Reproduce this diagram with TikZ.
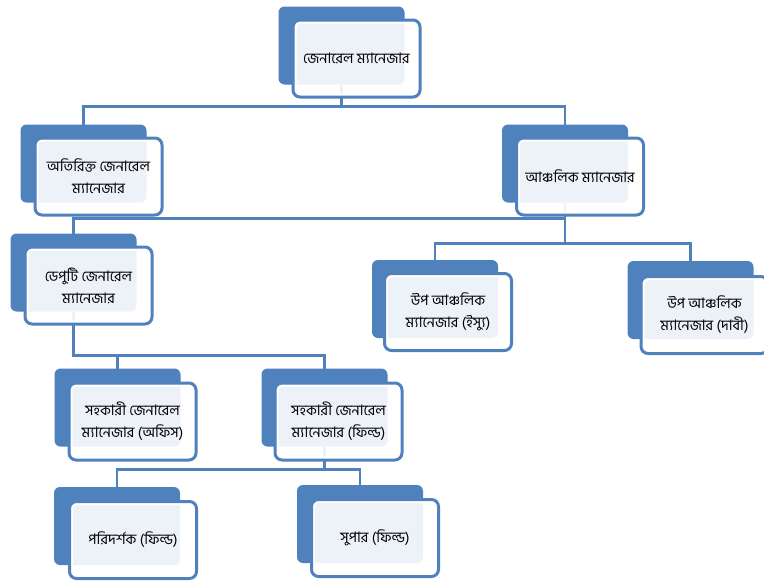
\documentclass[tikz,border=0pt]{standalone}
\usepackage{fontspec}
\newfontfamily\bnfont[Script=Bengali]{Hind Siliguri}
\usetikzlibrary{calc,positioning}
\pgfdeclarelayer{background}
\pgfsetlayers{background,main}
\definecolor{boxblue}{RGB}{79,129,189}

\begin{document}
\begin{tikzpicture}[x=1pt,y=-1pt]

\tikzstyle{back}=[fill=boxblue,draw=none,rounded corners=6pt,outer sep=0pt,minimum width=126pt,minimum height=78pt]
\tikzstyle{front}=[draw=boxblue,line width=3pt,fill=white,fill opacity=0.9,text opacity=1,rounded corners=7pt,outer sep=0pt,minimum width=127pt,minimum height=77pt,inner sep=1pt,align=center,font=\bnfont\fontsize{14.5}{22}\selectfont,
  path picture={\draw[white,line width=2pt,rounded corners=5pt] ([shift={(2.5pt,-2.5pt)}]path picture bounding box.north west) rectangle ([shift={(-2.5pt,2.5pt)}]path picture bounding box.south east);}]
\tikzstyle{conn}=[draw=boxblue,line width=2.5pt]

\useasboundingbox (0,0) rectangle (764,581);

% General manager

\node (gmB) [back] at (341.5,45.5) {};
\node (gm) [front] at ([xshift=15pt,yshift=-13pt]gmB.center) {জেনারেল ম্যানেজার};

% Second row

\node (agmB) [back] at (83.5,163.5) {};
\node (agm) [front] at ([xshift=15pt,yshift=-13pt]agmB.center) {অতিরিক্ত জেনারেল\\ম্যানেজার};

\node (rmB) [back] at (565,163.5) {};
\node (rm) [front] at ([xshift=15pt,yshift=-13pt]rmB.center) {আঞ্চলিক ম্যানেজার};

% Deputy and zonal

\node (dgmB) [back] at (73.5,272.5) {};
\node (dgm) [front] at ([xshift=15pt,yshift=-13pt]dgmB.center) {ডেপুটি জেনারেল\\ম্যানেজার};

\node (dziB) [back] at (435,299) {};
\node (dzi) [front] at ([xshift=13pt,yshift=-13pt]dziB.center) {উপ আঞ্চলিক\\ম্যানেজার (ইস্যু)};

\node (dzcB) [back] at (690.5,300) {};
\node (dzc) [front] at ([xshift=14pt,yshift=-15pt]dzcB.center) {উপ আঞ্চলিক\\ম্যানেজার (দাবী)};

% Assistant GMs

\node (agoB) [back] at (117.5,407.5) {};
\node (ago) [front] at ([xshift=15pt,yshift=-14pt]agoB.center) {সহকারী জেনারেল\\ম্যানেজার (অফিস)};

\node (agfB) [back] at (324.5,407.5) {};
\node (agf) [front] at ([xshift=14pt,yshift=-14pt]agfB.center) {সহকারী জেনারেল\\ম্যানেজার (ফিল্ড)};

% Field staff

\node (inspB) [back] at (117,526) {};
\node (insp) [front] at ([xshift=16pt,yshift=-14pt]inspB.center) {পরিদর্শক (ফিল্ড)};

\node (supB) [back] at (360,524) {};
\node (sup) [front] at ([xshift=15pt,yshift=-14pt]supB.center) {সুপার (ফিল্ড)};

% Connectors

\begin{pgfonlayer}{background}
\fill[white] (0,0) rectangle (764,581);

\draw[conn] (gmB.south) -- ++(0,22);
\draw[conn] (agmB.north) |- ($(gmB.south)+(0,22)$) -| (rmB.north);

\draw[conn] (rmB.south) -- ++(0,41);
\draw[conn] (dgmB.north) |- ($(rmB.south)+(0,16)$);
\draw[conn] (dziB.north) |- ($(rmB.south)+(0,41)$) -| (dzcB.north);

\draw[conn] (dgmB.south) |- ($(agfB.north)+(0,-13)$) -- (agfB.north);
\draw[conn] (agoB.north) -- ++(0,-13);

\draw[conn] (agfB.south) -- ++(0,23);
\draw[conn] (inspB.north) |- ($(agfB.south)+(0,23)$) -| (supB.north);
\end{pgfonlayer}

\end{tikzpicture}
\end{document}
